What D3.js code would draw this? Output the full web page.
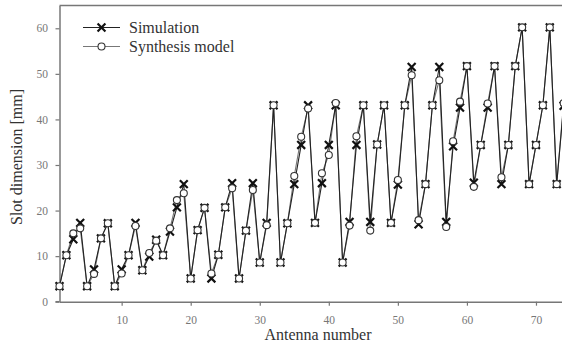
<!DOCTYPE html>
<html>
<head>
<meta charset="utf-8">
<script src="https://cdn.jsdelivr.net/npm/d3@7"></script>
<style>
  body { margin: 0; background: #fff; }
  svg { display: block; font-family: "Liberation Serif", "DejaVu Serif", serif; }
</style>
</head>
<body>
<div id="chart"></div>
<script>
// antenna numbers (categories on the x axis)
const antennas = [1,2,3,4,5,6,7,8,9,10,11,12,13,14,15,16,17,18,19,20,21,22,23,24,25,
  26,27,28,29,30,31,32,33,34,35,36,37,38,39,40,41,42,43,44,45,46,47,48,49,50,
  51,52,53,54,55,56,57,58,59,60,61,62,63,64,65,66,67,68,69,70,71,72,73,74];

// slot dimension [mm], simulation
const simulation = [3.4,10.2,13.7,17.3,3.4,7.1,13.9,17.2,3.4,7.1,10.2,17.3,6.9,9.9,13.6,10.2,15.4,20.7,25.8,5.1,
  15.7,20.6,5.1,10.3,20.7,26.0,5.1,15.6,26.0,8.6,17.3,43.1,8.6,17.2,25.8,34.4,43.1,17.3,26.0,34.4,
  43.1,8.6,17.5,34.4,43.1,17.5,34.5,43.1,17.3,25.7,43.1,51.5,17.0,25.8,43.1,51.5,17.5,34.1,42.6,51.7,
  26.1,34.4,42.6,51.7,25.8,34.4,51.7,60.2,25.8,34.4,43.1,60.2,25.8,43.0];

// slot dimension [mm], synthesis model
const synthesis = [3.4,10.2,15.0,16.1,3.4,6.1,13.9,17.2,3.4,6.2,10.2,16.6,6.9,10.7,13.4,10.2,16.1,22.3,23.8,5.1,
  15.7,20.6,6.2,10.3,20.7,24.9,5.1,15.6,24.5,8.6,16.8,43.1,8.6,17.2,27.6,36.2,42.4,17.3,28.2,32.2,
  43.6,8.6,16.7,36.3,43.1,15.6,34.5,43.1,17.3,26.7,43.1,49.7,17.9,25.8,43.1,48.6,16.4,35.2,43.9,51.7,
  25.2,34.4,43.5,51.7,27.3,34.4,51.7,60.2,25.8,34.4,43.1,60.2,25.8,43.6];

const xTicks = [10, 20, 30, 40, 50, 60, 70];
const yTicks = [0, 10, 20, 30, 40, 50, 60];

const W = 562, H = 347;
// plot box edges
const plotL = 59.5, plotT = 5.5, plotB = 301.7, plotR = 563.6;

const svg = d3.select("#chart").append("svg").attr("width", W).attr("height", H);

const x = d3.scaleLinear().domain([1, 74]).range([plotL, plotR]);
const y = d3.scaleLinear().domain([0, 65]).range([plotB, plotT]);

// frame top line
svg.append("line").attr("x1", plotL).attr("x2", W).attr("y1", plotT).attr("y2", plotT)
  .attr("stroke", "#777").attr("stroke-width", 1.5);

// axes
const gx = svg.append("g").attr("transform", `translate(0,${plotB})`)
  .call(d3.axisBottom(x).tickValues(xTicks).tickSize(4).tickSizeOuter(0));
const gy = svg.append("g").attr("transform", `translate(${plotL},0)`)
  .call(d3.axisLeft(y).tickValues(yTicks).tickSize(4).tickSizeOuter(0));
[gx, gy].forEach(g => {
  g.attr("font-family", "Liberation Serif").attr("font-size", 11.5);
  g.select(".domain").attr("stroke", "#777").attr("stroke-width", 1.5);
  g.selectAll(".tick line").attr("stroke", "#777").attr("stroke-width", 1.2);
  g.selectAll(".tick text").attr("fill", "#777");
});
gx.selectAll(".tick text").attr("dy", "1.3em");
gy.selectAll(".tick text").attr("dx", "-0.4em");
// bottom axis extends a little left of y axis
svg.append("line").attr("x1", plotL - 4).attr("x2", plotL).attr("y1", plotB).attr("y2", plotB)
  .attr("stroke", "#777").attr("stroke-width", 1.5);

// axis titles
svg.append("text").attr("x", 318).attr("y", 340).attr("text-anchor", "middle")
  .attr("fill", "#333").style("font-size", "16px").text("Antenna number");
svg.append("text").attr("transform", "translate(22,157) rotate(-90)").attr("text-anchor", "middle")
  .attr("fill", "#333").style("font-size", "16px").text("Slot dimension [mm]");

// lines
const lineOf = vals => d3.line().x((d, i) => x(antennas[i])).y(d => y(d))(vals);
svg.append("path").attr("d", lineOf(synthesis)).attr("fill", "none")
  .attr("stroke", "#777").attr("stroke-width", 1.1);
svg.append("path").attr("d", lineOf(simulation)).attr("fill", "none")
  .attr("stroke", "#222").attr("stroke-width", 1.1);

// markers
const xSym = d3.symbol().type(d3.symbolX).size(42);
svg.append("g").selectAll("path").data(simulation).join("path")
  .attr("d", xSym)
  .attr("transform", (d, i) => `translate(${x(antennas[i])},${y(d)})`)
  .attr("fill", "none").attr("stroke", "#111").attr("stroke-width", 2.2);
svg.append("g").selectAll("circle").data(synthesis).join("circle")
  .attr("cx", (d, i) => x(antennas[i])).attr("cy", d => y(d)).attr("r", 3.5)
  .attr("fill", "#fff").attr("stroke", "#333").attr("stroke-width", 1.1);

// legend
const legend = [
  { name: "Simulation", kind: "x", ly: 27.5 },
  { name: "Synthesis model", kind: "o", ly: 46.5 }
];
legend.forEach(l => {
  svg.append("line").attr("x1", 83).attr("x2", 120).attr("y1", l.ly).attr("y2", l.ly)
    .attr("stroke", l.kind === "x" ? "#222" : "#777").attr("stroke-width", 1.1);
  if (l.kind === "x") {
    svg.append("path").attr("d", xSym).attr("transform", `translate(101.5,${l.ly})`)
      .attr("fill", "none").attr("stroke", "#111").attr("stroke-width", 2.2);
  } else {
    svg.append("circle").attr("cx", 101.5).attr("cy", l.ly).attr("r", 3.5)
      .attr("fill", "#fff").attr("stroke", "#333").attr("stroke-width", 1.1);
  }
  svg.append("text").attr("x", 129).attr("y", l.ly + 5).attr("fill", "#333")
    .style("font-size", "16px").text(l.name);
});
</script>
</body>
</html>
